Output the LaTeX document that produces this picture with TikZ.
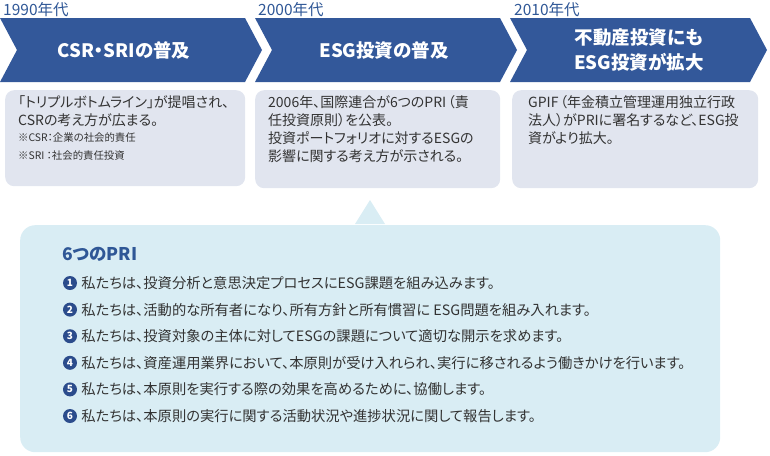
\documentclass[tikz,border=0pt]{standalone}
\usepackage{fontspec}
\setmainfont[RawFeature=+palt]{Noto Sans CJK JP}
\usepackage{tikz}
\usetikzlibrary{positioning,calc}
\usepackage{xcolor}
\definecolor{navy}{HTML}{33589A}
\definecolor{yearblue}{HTML}{2F5796}
\definecolor{cardgray}{HTML}{E1E5EF}
\definecolor{lightsky}{HTML}{D9EDF4}
\definecolor{dotblue}{HTML}{2B4C8C}
\definecolor{ink}{HTML}{333333}

\begin{document}
\begin{tikzpicture}[x=1pt, y=-1pt,
    yr/.style={anchor=base west, inner sep=0pt, text=yearblue, font=\fontsize{15.5}{16}\selectfont},
    head/.style={text=white, align=center, inner sep=0pt, font=\bfseries\fontsize{18.5}{25}\selectfont},
    card/.style={fill=cardgray, rounded corners=9pt, anchor=north west, inner sep=0pt},
    txt/.style={anchor=north west, align=left, inner sep=0pt, text=ink, font=\fontsize{14}{18}\selectfont},
    note/.style={anchor=north west, align=left, inner sep=0pt, text=ink, font=\fontsize{10.4}{18}\selectfont},
    num/.style={circle, fill=dotblue, text=white, inner sep=0pt, minimum size=14pt, font=\bfseries\fontsize{10}{10}\selectfont},
    item/.style={anchor=west, inner sep=0pt, text=ink, font=\fontsize{14.3}{15}\selectfont}]
    \useasboundingbox (0,0) rectangle (770,455);

    % Chevrons
    \foreach \x/\w in {0/245, 255/245, 510/240}
      \fill[navy] (\x,18) -- (\x+\w,18) -- (\x+\w+17,50) -- (\x+\w,82) -- (\x,82) -- (\x+17,50) -- cycle;

    % Years
    \node[yr] (y1) at (3,15) {1990年代};
    \node[yr] (y2) at (258,15) {2000年代};
    \node[yr] (y3) at (514,15) {2010年代};

    % Headings
    \node[head] (h1) at (124,50) {CSR・SRIの普及};
    \node[head] (h2) at (384,50) {ESG投資の普及};
    \node[head] (h3) at (639,50) {不動産投資にも\\ESG投資が拡大};

    % Cards
    \node[card, minimum width=240pt, minimum height=96pt] (c1) at (5,90) {};
    \node[card, minimum width=245pt, minimum height=98pt] (c2) at (255,90) {};
    \node[card, minimum width=246pt, minimum height=98pt] (c3) at (512,90) {};

    \node[txt] (t1) at ([shift={(13,5)}]c1.north west) {「トリプルボトムライン」が提唱され、\\CSRの考え方が広まる。};
    \node[note] (n1) at ([shift={(13,43)}]c1.north west) {※CSR：企業の社会的責任\\※SRI ：社会的責任投資};
    \node[txt] (t2) at ([shift={(13,5)}]c2.north west) {2006年、国際連合が6つのPRI\kern1.5pt（責\\任投資原則）を公表。\\投資ポートフォリオに対するESGの\\影響に関する考え方が示される。};
    \node[txt] (t3) at ([shift={(16,5)}]c3.north west) {GPIF\kern1.5pt（年金積立管理運用独立行政\\法人）がPRIに署名するなど、ESG投\\資がより拡大。};

    % Callout
    \node[fill=lightsky, rounded corners=15pt, anchor=north west, inner sep=0pt, minimum width=700pt, minimum height=227pt] (pri) at (20,225) {};
    \fill[lightsky] ([xshift=-15pt,yshift=1pt]pri.north -| 370,0) -- (370,200) -- ([xshift=15pt,yshift=1pt]pri.north -| 370,0) -- cycle;
    \node[anchor=base west, inner sep=0pt, text=yearblue, font=\bfseries\fontsize{17.5}{18}\selectfont] (ttl) at (62,260) {6つのPRI};

    \foreach \i/\t in {1/{私たちは、投資分析と意思決定プロセスにESG課題を組み込みます。},
                       2/{私たちは、活動的な所有者になり、所有方針と所有慣習に ESG問題を組み入れます。},
                       3/{私たちは、投資対象の主体に対してESGの課題について適切な開示を求めます。},
                       4/{私たちは、資産運用業界において、本原則が受け入れられ、実行に移されるよう働きかけを行います。},
                       5/{私たちは、本原則を実行する際の効果を高めるために、協働します。},
                       6/{私たちは、本原則の実行に関する活動状況や進捗状況に関して報告します。}} {
      \node[num] (k\i) at (70,283+26.6*\i-26.6) {\i};
      \node[item, right=4pt of k\i] (p\i) {\t};
    }
\end{tikzpicture}
\end{document}
